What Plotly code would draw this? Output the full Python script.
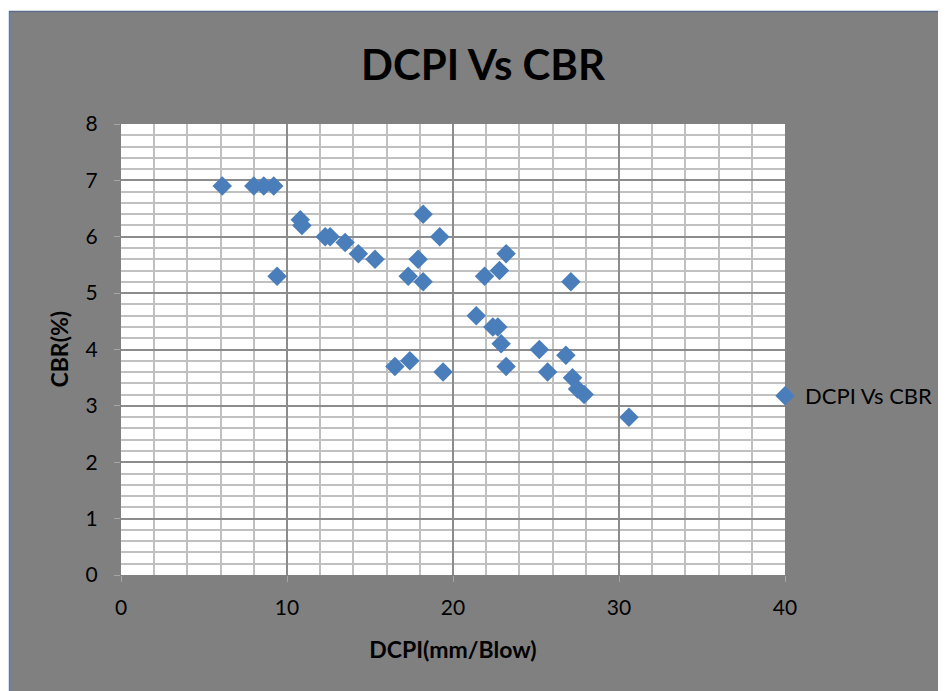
import plotly.graph_objects as go

# Data
dcpi = [6.1, 8.0, 8.6, 9.2, 9.4, 10.8, 10.9, 12.3, 12.6, 13.5, 14.3, 15.3,
        16.5, 17.4, 17.3, 17.9, 18.2, 18.2, 19.2, 19.4, 21.4, 21.9, 22.4, 22.7,
        22.8, 22.9, 23.2, 23.2, 25.2, 25.7, 26.8, 27.1, 27.2, 27.5, 27.9, 30.6]
cbr = [6.9, 6.9, 6.9, 6.9, 5.3, 6.3, 6.2, 6.0, 6.0, 5.9, 5.7, 5.6,
       3.7, 3.8, 5.3, 5.6, 5.2, 6.4, 6.0, 3.6, 4.6, 5.3, 4.4, 4.4,
       5.4, 4.1, 5.7, 3.7, 4.0, 3.6, 3.9, 5.2, 3.5, 3.3, 3.2, 2.8]

series_name = "DCPI Vs CBR"
title_text = "DCPI Vs CBR"
x_title = "DCPI(mm/Blow)"
y_title = "CBR(%)"

# page has an 8px body margin, so the figure is sized to fit the window
OFF = 8
W, H = 946 - OFF, 691 - OFF
L, T = 121 - OFF, 124 - OFF
pw, ph = 664, 451
R, B = W - L - pw, H - T - ph


def px_x(p):
    return (p - L) / pw


def px_y(p):
    return (T + ph - p) / ph


FONT = "Lato"
GRAY = "#808080"

fig = go.Figure()
fig.add_trace(go.Scatter(
    x=dcpi, y=cbr, mode="markers", name=series_name,
    marker=dict(symbol="diamond", size=15, color="#4A7EBB",
                line=dict(width=0)),
))

shapes = [
    dict(type="rect", xref="paper", yref="paper", x0=px_x(0), x1=px_x(W),
         y0=px_y(3), y1=px_y(0), fillcolor="white", line=dict(width=0), layer="above"),
    dict(type="rect", xref="paper", yref="paper", x0=px_x(0), x1=px_x(1),
         y0=px_y(H), y1=px_y(0), fillcolor="white", line=dict(width=0), layer="above"),
    dict(type="line", xref="paper", yref="paper", x0=px_x(1.5), x1=px_x(1.5),
         y0=px_y(3), y1=px_y(H), line=dict(color="#4F81BD", width=1.5), layer="above"),
    dict(type="line", xref="paper", yref="paper", x0=px_x(1), x1=px_x(W),
         y0=px_y(3.5), y1=px_y(3.5), line=dict(color="#5A6E8A", width=1.5), layer="above"),
]

annotations = [
    dict(text=y_title, xref="paper", yref="paper", x=px_x(58 - OFF), y=0.5,
         xanchor="center", yanchor="middle", textangle=-90, showarrow=False,
         font=dict(family=FONT, size=23, color="black", weight="bold")),
]

fig.update_layout(
    width=W, height=H,
    margin=dict(l=L, r=R, t=T, b=B, autoexpand=False),
    paper_bgcolor=GRAY,
    plot_bgcolor="white",
    font=dict(family=FONT, color="black"),
    title=dict(text=title_text, xref="container", x=(483 - OFF) / W, xanchor="center",
               yref="container", y=1 - (65 - OFF) / H, yanchor="middle",
               font=dict(family=FONT, size=42, color="black", weight="bold")),
    showlegend=True,
    legend=dict(x=px_x(765 - OFF), xanchor="left", y=px_y(396 - OFF), yanchor="middle",
                bgcolor="rgba(0,0,0,0)", font=dict(family=FONT, size=22, color="black"),
                itemwidth=30),
    shapes=shapes,
    annotations=annotations,
    xaxis=dict(
        range=[0, 40], dtick=10, tick0=0,
        showgrid=True, gridcolor="#8C8C8C", gridwidth=2,
        zeroline=False, showline=False,
        ticks="outside", ticklen=6, tickcolor="#A6A6A6", tickwidth=1,
        ticklabelstandoff=8,
        tickfont=dict(family=FONT, size=21, color="black"),
        minor=dict(dtick=2, showgrid=True, gridcolor="#C0C0C0", gridwidth=2),
        title=dict(text=x_title, standoff=23,
                   font=dict(family=FONT, size=23, color="black", weight="bold")),
        fixedrange=True,
    ),
    yaxis=dict(
        range=[0, 8], dtick=1, tick0=0,
        showgrid=True, gridcolor="#8C8C8C", gridwidth=2,
        zeroline=False, showline=False,
        ticks="outside", ticklen=6, tickcolor="#A6A6A6", tickwidth=1,
        ticklabelstandoff=12,
        tickfont=dict(family=FONT, size=21, color="black"),
        minor=dict(dtick=0.2, showgrid=True, gridcolor="#C0C0C0", gridwidth=2),
        fixedrange=True,
    ),
)

fig.write_html("out.html")
